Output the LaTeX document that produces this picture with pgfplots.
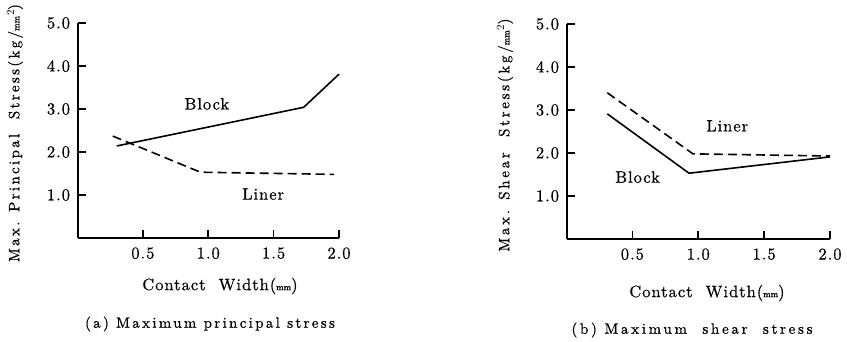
\documentclass[border=0pt]{standalone}
\usepackage{fontspec}
\usepackage{pgfplots}
\pgfplotsset{compat=1.18}
\newfontfamily\lsa{lmroman10-regular}[Extension=.otf, LetterSpace=6, FakeBold=0.6]
\newfontfamily\lsb{lmroman10-regular}[Extension=.otf, LetterSpace=15.5, FakeBold=0.6]
\newfontfamily\lsc{lmroman10-regular}[Extension=.otf, LetterSpace=18, FakeBold=0.6]
\newfontfamily\lsz{lmroman10-regular}[Extension=.otf, FakeBold=1]
\newcommand{\mmu}{{\lsz\fontsize{9}{9}\selectfont mm}}
\tikzset{
  lbl/.style={font=\lsa\fontsize{16.5}{19}\selectfont, inner sep=0pt},
  captxt/.style={font=\lsb\fontsize{15}{18}\selectfont, inner sep=0pt},
  captxtc/.style={font=\lsc\fontsize{15}{18}\selectfont, inner sep=0pt},
}
\pgfplotsset{
  myax/.style={
    scale only axis, height=215pt,
    axis lines=left, axis line style={-, line width=2pt},
    tick align=inside, major tick length=8pt,
    every tick/.style={line width=1.6pt, black},
    xmin=0, xmax=2, ymin=0, ymax=5,
    xtick={0.5,1,1.5,2}, xticklabels={0.5,1.0,1.5,2.0},
    ytick={1,2,3,4,5}, yticklabels={1.0,2.0,3.0,4.0,5.0},
    tick label style={font=\lsa\fontsize{16.5}{19}\selectfont},
    yticklabel style={xshift=-4pt},
    xticklabel style={yshift=-6pt},
    clip=false,
  },
  solidl/.style={black, line width=1.6pt},
  dashl/.style={black, line width=1.6pt, dash pattern=on 9pt off 5pt},
}
\begin{document}
\begin{tikzpicture}
\useasboundingbox (0,0) rectangle (847pt,341pt);
% (a)
\begin{axis}[myax, width=261.5pt, at={(77.5pt,103pt)}, anchor=origin]
\addplot[solidl] coordinates {(0.30,2.14) (1.00,2.58) (1.73,3.04) (2.00,3.81)};
\addplot[dashl] coordinates {(0.27,2.37) (0.94,1.53) (1.96,1.48)};
\node[lbl] at (axis cs:0.99,3.12) {Block};
\node[lbl] at (axis cs:1.42,1.02) {Liner};
\end{axis}
% (b)
\begin{axis}[myax, width=263.5pt, at={(566.5pt,102pt)}, anchor=origin]
\addplot[dashl] coordinates {(0.31,3.40) (0.96,1.98) (2.00,1.93)};
\addplot[solidl] coordinates {(0.31,2.91) (0.93,1.53) (2.00,1.91)};
\node[lbl] at (axis cs:1.22,2.63) {Liner};
\node[lbl] at (axis cs:0.54,1.44) {Block};
\end{axis}
% labels
\node[captxt, rotate=90] at (15pt,208pt) {Max. Principal\ \ Stress(kg/\mmu$^2$)};
\node[captxtc, rotate=90] at (505pt,206pt) {Max. Shear\ \ Stress(kg/\mmu$^2$)};
\node[lbl] at (220pt,55pt) {Contact\ \ Width(\mmu)};
\node[lbl] at (707pt,48pt) {Contact\ \ Width(\mmu)};
\node[captxt] at (210pt,17pt) {(a) Maximum principal stress};
\node[captxtc] at (692pt,11pt) {(b)\ Maximum\ \ shear\ \ stress};
\end{tikzpicture}
\end{document}
